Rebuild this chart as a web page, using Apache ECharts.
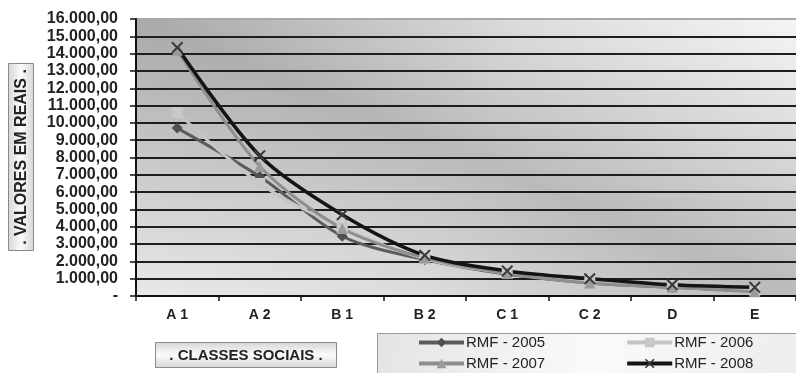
<!DOCTYPE html>
<html>
<head>
<meta charset="utf-8">
<script src="https://cdn.jsdelivr.net/npm/echarts@6/dist/echarts.min.js"></script>
<style>
  html, body { margin: 0; padding: 0; background: #ffffff; }
  #chart { width: 796px; height: 373px; }
</style>
</head>
<body>
<div id="chart"></div>
<script>
// Renda média familiar por classe social (R$)
var categories = ['A 1', 'A 2', 'B 1', 'B 2', 'C 1', 'C 2', 'D', 'E'];
var rmf2005 = [9700, 6900, 3450, 2100, 1250, 750, 500, 300];
var rmf2006 = [10600, 6500, 3950, 2150, 1300, 800, 550, 300];
var rmf2007 = [14200, 7500, 3900, 2200, 1300, 750, 500, 250];
var rmf2008 = [14350, 8100, 4700, 2350, 1450, 1000, 650, 500];
var seriesNames = ['RMF - 2005', 'RMF - 2006', 'RMF - 2007', 'RMF - 2008'];

var FONT = '"Liberation Sans", Arial, sans-serif';
var xMarker = 'path://M0,1.2L1.2,0L5,3.8L8.8,0L10,1.2L6.2,5L10,8.8L8.8,10L5,6.2L1.2,10L0,8.8L3.8,5Z';

// plot rectangle (pixels) shared by the grid and its shaded backdrop
var PLOT = { left: 136, top: 19, width: 665, height: 277 };

function fmtBR(v) {
  if (v === 0) return '-';
  var s = String(Math.round(v));
  var out = '';
  while (s.length > 3) {
    out = '.' + s.slice(-3) + out;
    s = s.slice(0, -3);
  }
  return s + out + ',00';
}

// grid lines: dark except the top one
var splitColors = [];
for (var i = 0; i <= 16; i++) splitColors.push(i === 16 ? '#a8a8a8' : '#1e1e1e');

function mkSeries(name, data, color, symbol, size, width, symColor) {
  return {
    name: name,
    type: 'line',
    data: data,
    smooth: 0.3,
    symbol: symbol,
    symbolSize: size,
    lineStyle: { color: color, width: width },
    itemStyle: { color: symColor || color },
    emphasis: { disabled: true }
  };
}

function legendRow(names, top) {
  return {
    data: names,
    left: 417, top: top, padding: 0,
    itemWidth: 45, itemHeight: 12, itemGap: 80,
    lineStyle: { width: 4 },
    textStyle: { color: '#222', fontSize: 15, fontFamily: FONT, padding: [0, 0, 0, -3] },
    selectedMode: false
  };
}

// diagonal band shading: dark along the top-left → bottom-right diagonal
var cx = PLOT.left + PLOT.width / 2, cy = PLOT.top + PLOT.height / 2;
var dl = Math.sqrt(PLOT.width * PLOT.width + PLOT.height * PLOT.height);
var nx = PLOT.height / dl, ny = -PLOT.width / dl;
var reach = Math.abs((-PLOT.width / 2) * nx + (PLOT.height / 2) * ny);
var bandFill = new echarts.graphic.LinearGradient(
  cx - reach * nx, cy - reach * ny, cx + reach * nx, cy + reach * ny, [
    { offset: 0, color: '#f8f8f8' },
    { offset: 0.5, color: '#bababa' },
    { offset: 1, color: '#f6f6f6' }
  ], true);
var tiltFill = new echarts.graphic.LinearGradient(
  PLOT.left, PLOT.top, PLOT.left + PLOT.width, PLOT.top + PLOT.height, [
    { offset: 0, color: 'rgba(0,0,0,0.09)' },
    { offset: 0.5, color: 'rgba(0,0,0,0)' },
    { offset: 1, color: 'rgba(0,0,0,0.0)' }
  ], true);

var chart = echarts.init(document.getElementById('chart'), null, { renderer: 'canvas' });
chart.setOption({
  animation: false,
  backgroundColor: '#ffffff',
  grid: {
    left: PLOT.left, top: PLOT.top, right: 796 - PLOT.left - PLOT.width, bottom: 373 - PLOT.top - PLOT.height,
    show: false
  },
  xAxis: {
    type: 'category',
    data: categories,
    boundaryGap: true,
    axisLine: { show: true, lineStyle: { color: '#111', width: 2 } },
    axisTick: { show: true, length: 5, lineStyle: { color: '#111', width: 1.5 } },
    axisLabel: { color: '#222', fontSize: 14, fontWeight: 'bold', fontFamily: FONT, margin: 12 },
    splitLine: { show: false }
  },
  yAxis: {
    type: 'value',
    min: 0, max: 16000, interval: 1000,
    axisLine: { show: true, lineStyle: { color: '#111', width: 2 } },
    axisTick: { show: true, length: 6, lineStyle: { color: '#111', width: 1.5 } },
    axisLabel: {
      color: '#222', fontSize: 16, fontWeight: 'bold', fontFamily: FONT, margin: 18,
      formatter: fmtBR
    },
    splitLine: { show: true, lineStyle: { color: splitColors, width: 2 } }
  },
  legend: [
    legendRow([seriesNames[0], seriesNames[1]], 335),
    legendRow([seriesNames[2], seriesNames[3]], 356)
  ],
  graphic: [
    {
      type: 'rect', z: -3, silent: true,
      shape: { x: PLOT.left, y: PLOT.top, width: PLOT.width, height: PLOT.height },
      style: { fill: bandFill }
    },
    {
      type: 'rect', z: -2, silent: true,
      shape: { x: PLOT.left, y: PLOT.top, width: PLOT.width, height: PLOT.height },
      style: { fill: tiltFill }
    },
    {
      type: 'rect', z: -1,
      shape: { x: 377.5, y: 333.5, width: 430, height: 50 },
      style: {
        fill: new echarts.graphic.LinearGradient(0, 0, 1, 1, [
          { offset: 0, color: '#e4e4e4' },
          { offset: 0.5, color: '#fafafa' },
          { offset: 1, color: '#ececec' }
        ]),
        stroke: '#9a9a9a', lineWidth: 1
      }
    },
    {
      type: 'group', left: 155, top: 342,
      children: [
        {
          type: 'rect',
          shape: { x: 0.5, y: 0.5, width: 181, height: 25 },
          style: {
            fill: new echarts.graphic.LinearGradient(0, 0, 0, 1, [
              { offset: 0, color: '#d6d6d6' },
              { offset: 0.5, color: '#fbfbfb' },
              { offset: 1, color: '#d6d6d6' }
            ]),
            stroke: '#8a8a8a', lineWidth: 1
          }
        },
        {
          type: 'text',
          style: {
            x: 91, y: 13.5, text: '. CLASSES SOCIAIS .',
            fill: '#222', fontSize: 15, fontWeight: 'bold', fontFamily: FONT,
            align: 'center', verticalAlign: 'middle'
          }
        }
      ]
    },
    {
      type: 'group', left: 8, top: 63,
      children: [
        {
          type: 'rect',
          shape: { x: 0.5, y: 0.5, width: 25, height: 187 },
          style: {
            fill: new echarts.graphic.LinearGradient(0, 0, 1, 0, [
              { offset: 0, color: '#d6d6d6' },
              { offset: 0.5, color: '#fbfbfb' },
              { offset: 1, color: '#d6d6d6' }
            ]),
            stroke: '#8a8a8a', lineWidth: 1
          }
        },
        {
          type: 'text',
          x: 13.5, y: 94, rotation: Math.PI / 2,
          style: {
            x: 0, y: 0, text: '. VALORES EM REAIS .',
            fill: '#222', fontSize: 16, fontWeight: 'bold', fontFamily: FONT,
            align: 'center', verticalAlign: 'middle'
          }
        }
      ]
    }
  ],
  series: [
    mkSeries(seriesNames[0], rmf2005, '#5c5c5c', 'diamond', 11, 3, '#505050'),
    mkSeries(seriesNames[1], rmf2006, '#c4c4c4', 'rect', 11, 3, '#c8c8c8'),
    mkSeries(seriesNames[2], rmf2007, '#8e8e8e', 'triangle', 11, 3, '#9a9a9a'),
    mkSeries(seriesNames[3], rmf2008, '#141414', xMarker, 12, 3.5, '#3a3a3a')
  ]
});
</script>
</body>
</html>
